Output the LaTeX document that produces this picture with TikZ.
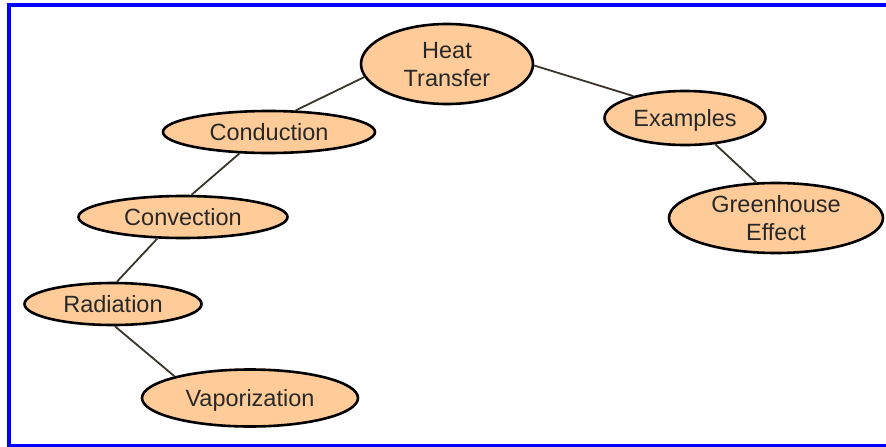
\documentclass[tikz,border=0pt]{standalone}
\usepackage{fontspec}
\setmainfont{Liberation Sans}
\usetikzlibrary{shapes.geometric}
\definecolor{peach}{RGB}{255,204,153}
\definecolor{linkgray}{RGB}{58,52,42}
\definecolor{textgray}{RGB}{40,40,40}

\begin{document}
\begin{tikzpicture}[x=1pt,y=-1pt,
	topic/.style={ellipse,draw=black,line width=2.6pt,fill=peach,inner sep=0pt,text depth=0pt,
		text=textgray,align=center,font=\fontsize{23.5}{28}\selectfont},
	link/.style={color=linkgray,line width=1.8pt}]

	\useasboundingbox (0,0) rectangle (886,447);

	% blue frame

	\draw[line width=4pt,color=blue] (9,5) -- (892,5) -- (892,446) -- (9,446) -- cycle;

	% concepts

	\node[topic,minimum width=172,minimum height=80] (heat) at (447,64) {Heat\\Transfer};
	\node[topic,minimum width=212,minimum height=42] (conduction) at (269,132) {Conduction};
	\node[topic,minimum width=209,minimum height=42] (convection) at (183,217) {Convection};
	\node[topic,minimum width=177,minimum height=42] (radiation) at (113,304) {Radiation};
	\node[topic,minimum width=216,minimum height=57] (vaporization) at (250,398) {Vaporization};
	\node[topic,minimum width=161,minimum height=54] (examples) at (685,118) {Examples};
	\node[topic,minimum width=214,minimum height=70] (greenhouse) at (776,218) {Greenhouse\\Effect};

	% links

	\draw[link] (heat.189) -- (conduction.39);
	\draw[link] (conduction.216) -- (convection.69);
	\draw[link] (convection.220) -- (radiation.80);
	\draw[link] (radiation.275) -- (vaporization.164);
	\draw[link] (heat.-1) -- (examples.157);
	\draw[link] (examples.319) -- (greenhouse.119);

\end{tikzpicture}
\end{document}
